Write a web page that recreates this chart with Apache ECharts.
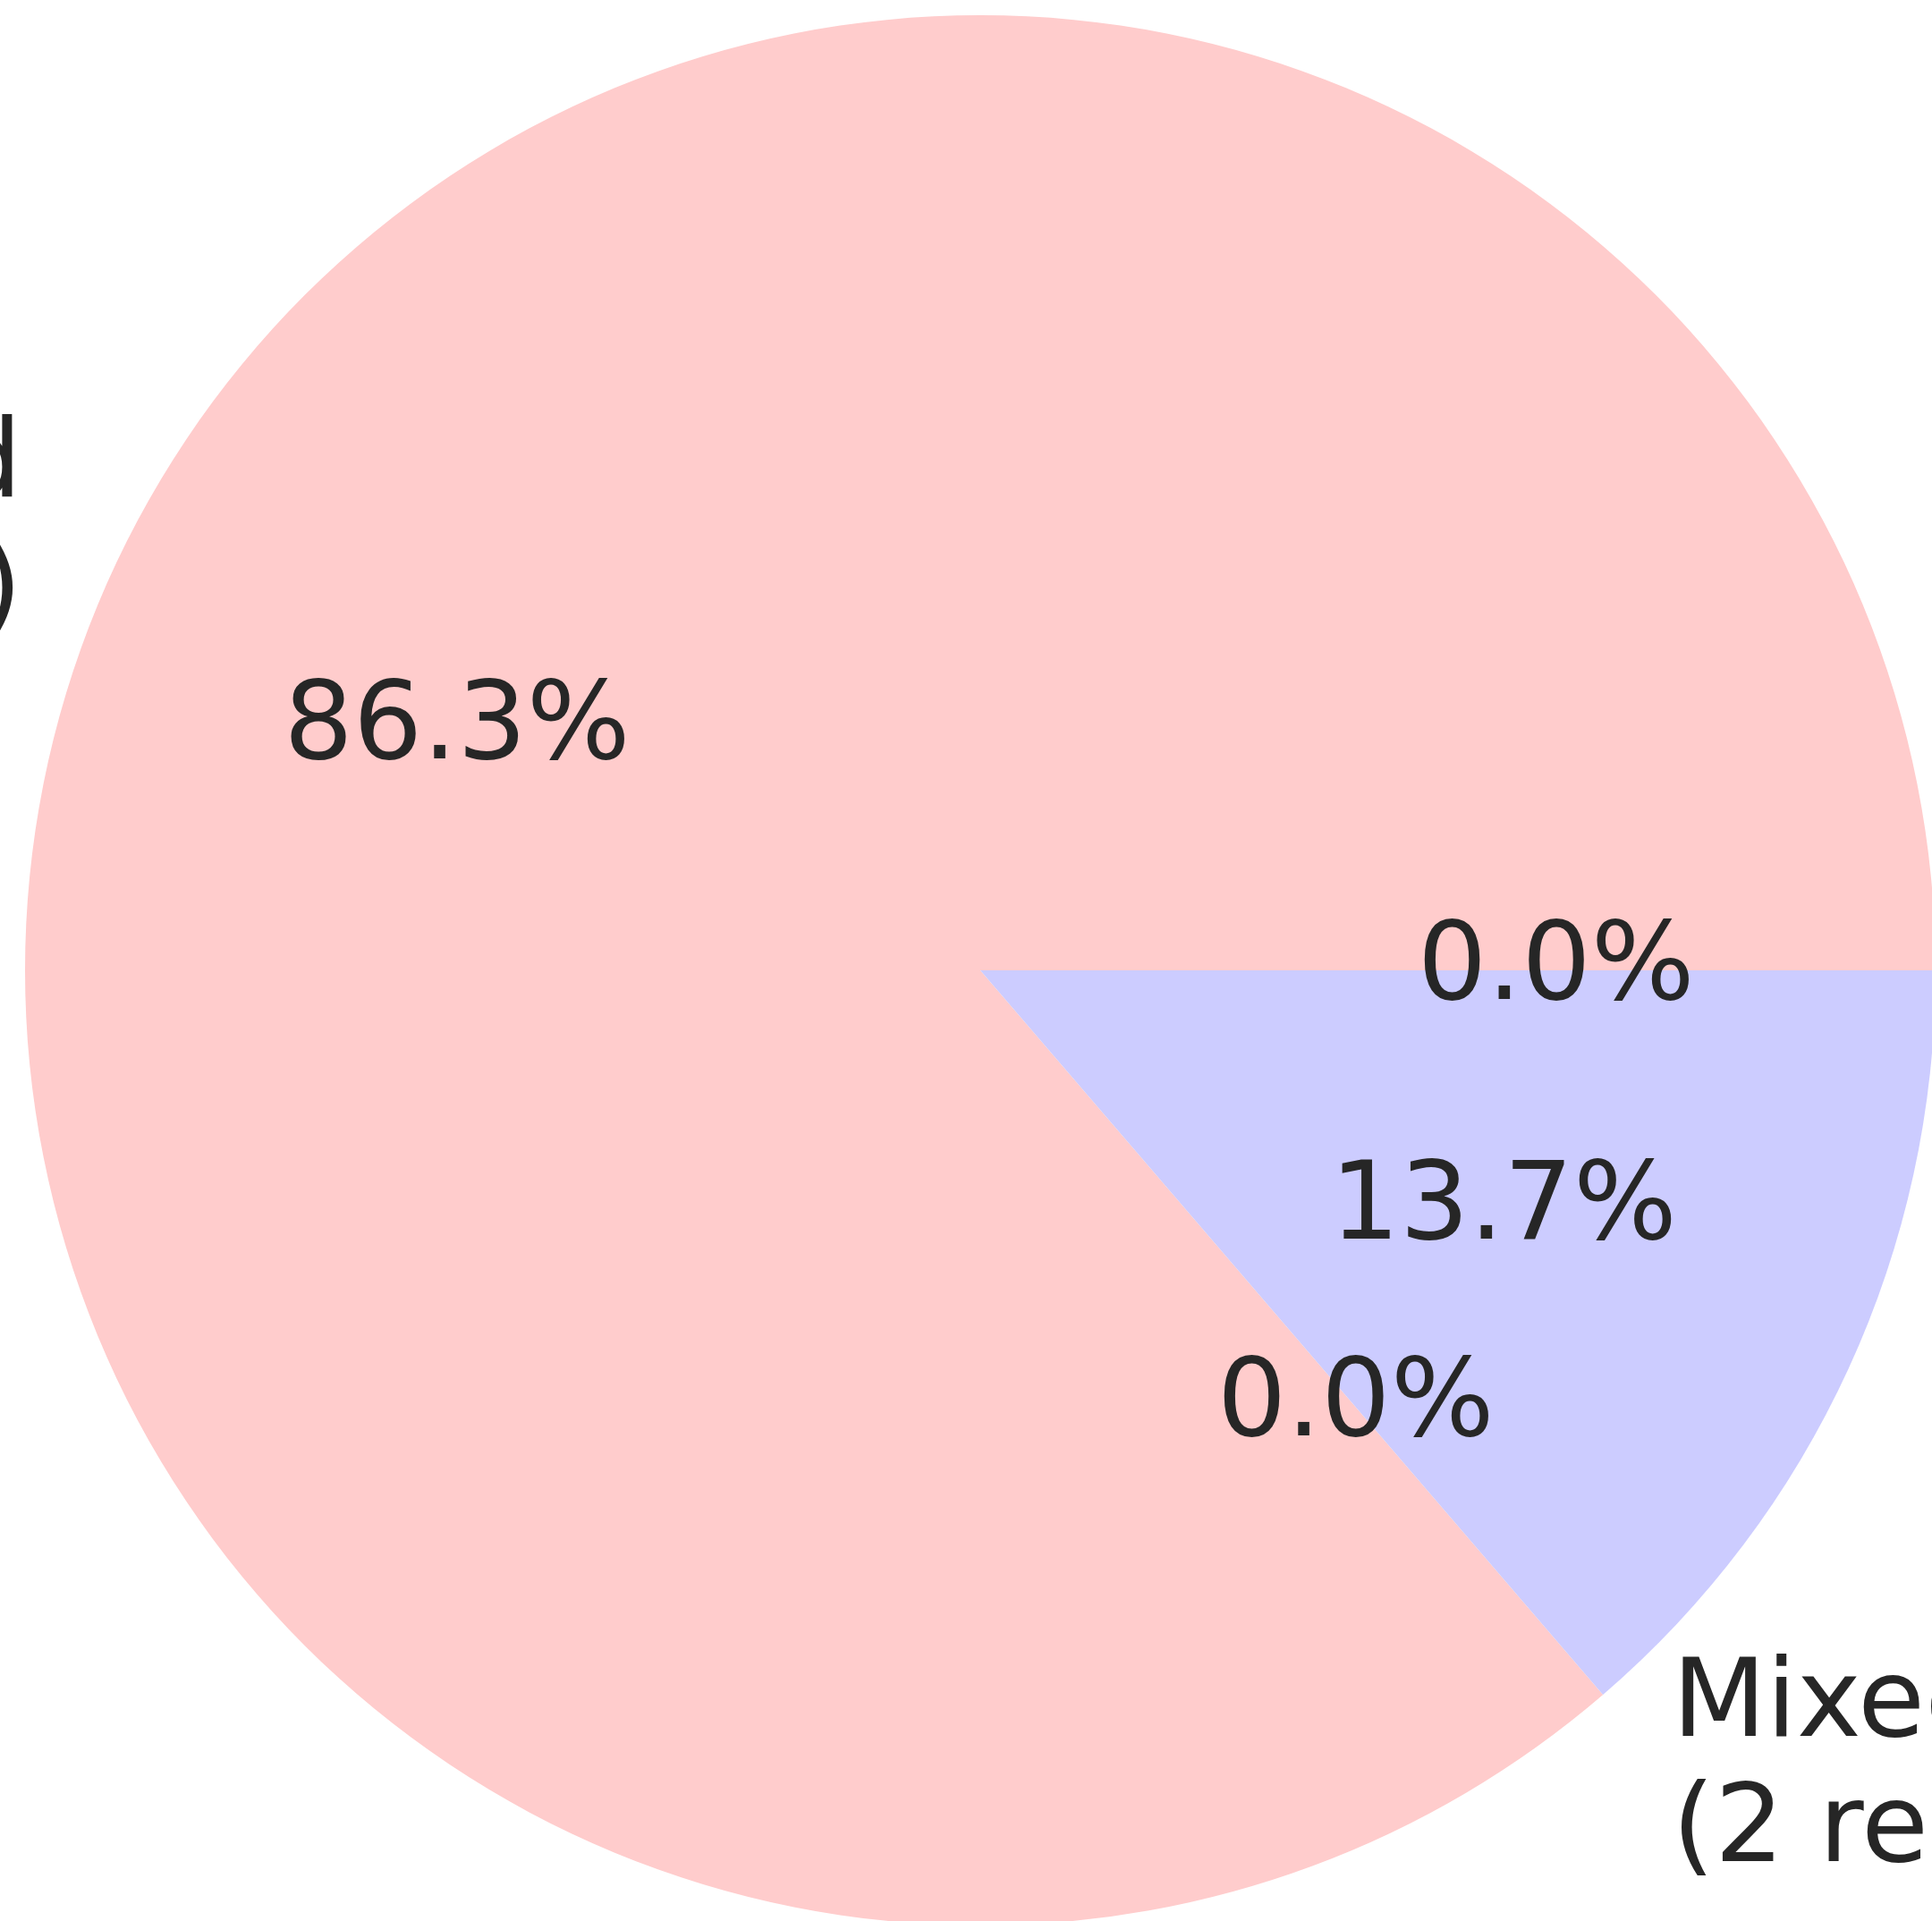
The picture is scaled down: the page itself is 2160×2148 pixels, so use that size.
<!DOCTYPE html>
<html>
<head>
<meta charset="utf-8">
<script src="https://cdn.jsdelivr.net/npm/echarts@6/dist/echarts.min.js"></script>
<style>
html,body{margin:0;padding:0;background:#fff;}
#chart{width:2160px;height:2148px;}
</style>
</head>
<body>
<div id="chart"></div>
<script>
// Data
const categories = ["Unmixed\n(12 reads)", "Mixed\n(2 reads)", "Mixed\n(3 reads)", "Mixed\n(4+ reads)"];
const values = [86.3, 0.0, 13.7, 0.0];
const colors = ["#FFCCCC", "#CCFFCC", "#CCCCFF", "#FFFFCC"];

const R = 1068;
const CX = 1096, CY = 1085;
const LABEL_R = 1179;
const FONT = 'DejaVu Sans';
const FS = 122;
const TXT = '#262626';

const chart = echarts.init(document.getElementById('chart'), null, {renderer: 'canvas'});

const pieData = categories.map((c, i) => ({
  name: c, value: values[i], itemStyle: {color: colors[i]},
  label: {distanceToLabelLine: i === 1 ? 5 : 0}
}));
const labelData = categories.map((c, i) => ({name: c, value: values[i]}));

chart.setOption({
  backgroundColor: '#ffffff',
  animation: false,
  series: [
    {
      type: 'pie',
      center: [CX, CY],
      radius: [0, R],
      startAngle: 0,
      clockwise: false,
      avoidLabelOverlap: false,
      minShowLabelAngle: 0,
      stillShowZeroSum: true,
      itemStyle: {borderWidth: 0},
      emphasis: {disabled: true},
      label: {
        show: true,
        position: 'outside',
        formatter: p => p.name,
        fontFamily: FONT,
        fontSize: FS,
        lineHeight: 140,
        color: TXT,
        distanceToLabelLine: 0
      },
      labelLine: {show: false, length: LABEL_R - R, length2: 0},
      data: pieData
    },
    {
      type: 'pie',
      center: [CX, CY],
      radius: [R * 0.2, R],
      startAngle: 0,
      clockwise: false,
      avoidLabelOverlap: false,
      minShowLabelAngle: 0,
      stillShowZeroSum: true,
      silent: true,
      itemStyle: {color: 'rgba(0,0,0,0)', borderWidth: 0},
      emphasis: {disabled: true},
      label: {
        show: true,
        position: 'inside',
        formatter: p => p.percent.toFixed(1) + '%',
        fontFamily: FONT,
        fontSize: FS,
        color: TXT
      },
      labelLine: {show: false},
      data: labelData
    }
  ]
});
</script>
</body>
</html>
